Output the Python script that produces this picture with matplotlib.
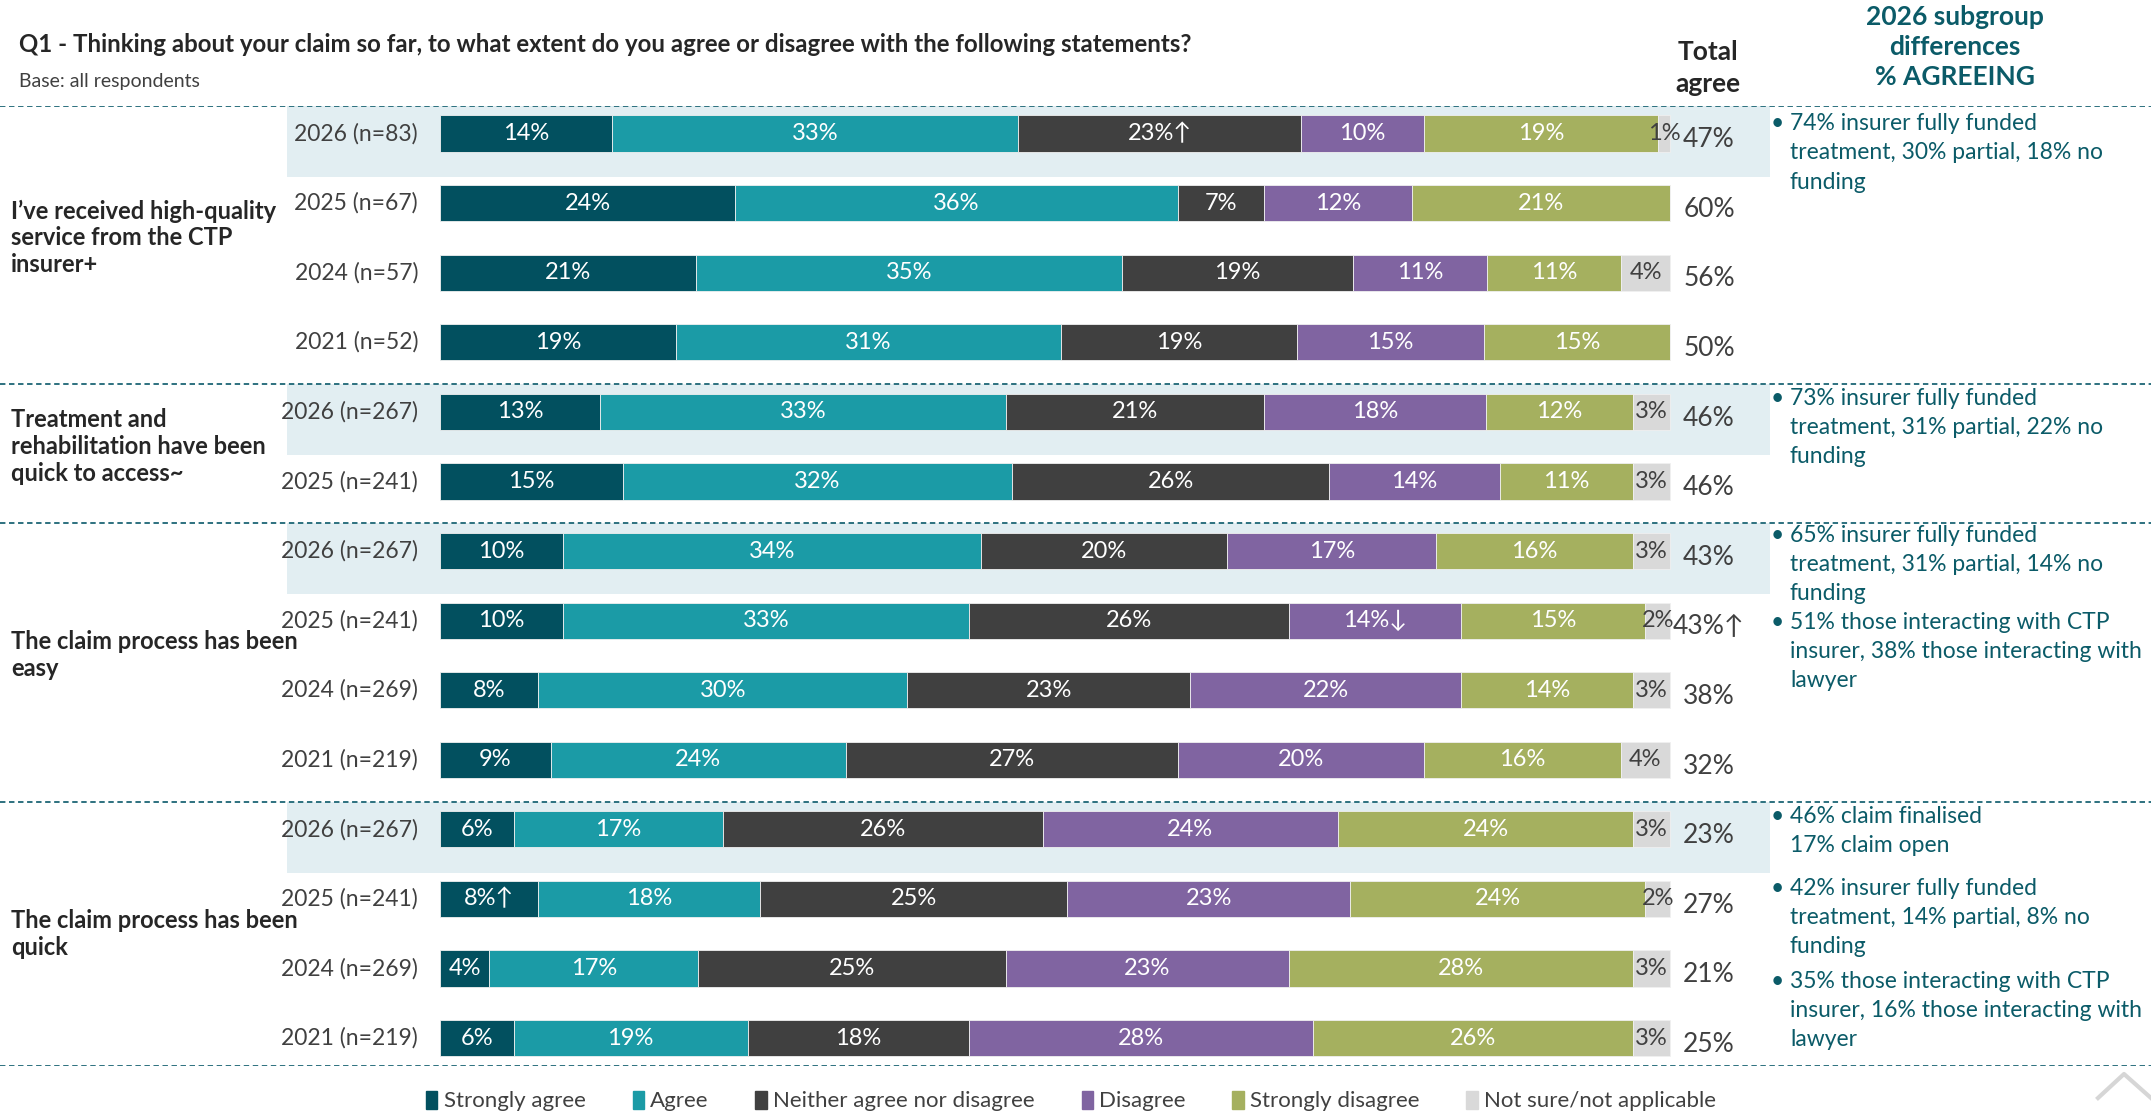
import numpy as np
import matplotlib.pyplot as plt
from matplotlib.patches import Patch, Rectangle
from matplotlib.lines import Line2D

plt.rcParams['font.family'] = ['Lato', 'DejaVu Sans']

# ---- data ----
categories = ['Strongly agree', 'Agree', 'Neither agree nor disagree',
              'Disagree', 'Strongly disagree', 'Not sure/not applicable']
colors = ['#02505f', '#1b9ba6', '#404040', '#8064a1', '#a5b05f', '#d9d9d9']

statements = ['I’ve received high-quality\nservice from the CTP\ninsurer+',
              'Treatment and\nrehabilitation have been\nquick to access~',
              'The claim process has been\neasy',
              'The claim process has been\nquick']
group_sizes = [4, 2, 4, 4]

row_labels = ['2026 (n=83)', '2025 (n=67)', '2024 (n=57)', '2021 (n=52)',
              '2026 (n=267)', '2025 (n=241)',
              '2026 (n=267)', '2025 (n=241)', '2024 (n=269)', '2021 (n=219)',
              '2026 (n=267)', '2025 (n=241)', '2024 (n=269)', '2021 (n=219)']

strongly_agree = [14, 24, 21, 19, 13, 15, 10, 10, 8, 9, 6, 8, 4, 6]
agree = [33, 36, 35, 31, 33, 32, 34, 33, 30, 24, 17, 18, 17, 19]
neither = [23, 7, 19, 19, 21, 26, 20, 26, 23, 27, 26, 25, 25, 18]
disagree = [10, 12, 11, 15, 18, 14, 17, 14, 22, 20, 24, 23, 23, 28]
strongly_disagree = [19, 21, 11, 15, 12, 11, 16, 15, 14, 16, 24, 24, 28, 26]
not_sure = [1, 0, 4, 0, 3, 3, 3, 2, 3, 4, 3, 2, 3, 3]

total_agree = [47, 60, 56, 50, 46, 46, 43, 43, 38, 32, 23, 27, 21, 25]

# significance arrows: (row, category) -> arrow
seg_arrows = {(0, 2): '↑', (7, 3): '↓', (11, 0): '↑'}
total_arrows = {7: '↑'}

# subgroup notes: (row offset of text top, text)
notes = [(-0.29, '74% insurer fully funded\ntreatment, 30% partial, 18% no\nfunding'),
         (3.66, '73% insurer fully funded\ntreatment, 31% partial, 22% no\nfunding'),
         (5.62, '65% insurer fully funded\ntreatment, 31% partial, 14% no\nfunding'),
         (6.87, '51% those interacting with CTP\ninsurer, 38% those interacting with\nlawyer'),
         (9.66, '46% claim finalised\n17% claim open'),
         (10.7, '42% insurer fully funded\ntreatment, 14% partial, 8% no\nfunding'),
         (12.03, '35% those interacting with CTP\ninsurer, 16% those interacting with\nlawyer')]

# ---- layout ----
W, H = 2151, 1113
bar_x0, bar_x1 = 440, 1670          # pixel span of a full 100% bar
ppu = (bar_x1 - bar_x0) / 100.0      # pixels per percent
dark = '#404040'
teal = '#0b5b68'

fig = plt.figure(figsize=(W / 100, H / 100), dpi=100)
ax = fig.add_axes([0, 1 - 1066 / H, 1, (1066 - 105.6) / H])
ax.set_xlim(-bar_x0 / ppu, (W - bar_x0) / ppu)
ax.set_ylim(13.4, -0.4)
ax.axis('off')


def px(x):
    return (x - bar_x0) / ppu


data = np.array([strongly_agree, agree, neither, disagree,
                 strongly_disagree, not_sure], dtype=float).T
widths = data / data.sum(axis=1, keepdims=True) * 100
rows = np.arange(len(row_labels))

# group separators and 2026 highlight bands
starts = np.cumsum([0] + group_sizes[:-1])
for g, s in enumerate(starts):
    ax.axhline(s - 0.4, color='#1d6675', lw=1.3, ls=(0, (3, 2)))
    ax.add_patch(Rectangle((px(287), s - 0.4), px(1770) - px(287), 1.02,
                           color='#e2eef2', zorder=0, lw=0))
    mid = s + (group_sizes[g] - 1) / 2
    ax.text(px(11), mid, statements[g], ha='left', va='center', fontsize=17,
            fontweight='bold', color='#262626', linespacing=1.2)
ax.axhline(13.4, color='#1d6675', lw=1.3, ls=(0, (3, 2)))

left = np.zeros(len(rows))
for j, cat in enumerate(categories):
    ax.barh(rows, widths[:, j], left=left, height=0.52, color=colors[j],
            edgecolor='#f0f0f0', linewidth=0.6, label=cat, zorder=2)
    for i in rows:
        v = data[i, j]
        if v <= 0:
            continue
        txt = f'{int(v)}%' + seg_arrows.get((i, j), '')
        ax.text(left[i] + widths[i, j] / 2, i, txt, ha='center', va='center',
                fontsize=17, color=dark if j == 5 else 'white', zorder=3)
    left += widths[:, j]

for i in rows:
    ax.text(px(418), i, row_labels[i], ha='right', va='center',
            fontsize=16.5, color=dark)
    ax.text(px(1709), i + 0.09, f'{total_agree[i]}%' + total_arrows.get(i, ''),
            ha='center', va='center', fontsize=19, color=dark)

for y, note in notes:
    ax.text(px(1771), y, '•', ha='left', va='top', fontsize=16.5, color=teal)
    ax.text(px(1790), y, note, ha='left', va='top', fontsize=16.5, color=teal,
            linespacing=1.48)

# headers
fig.text(19 / W, 1 - 44 / H, 'Q1 - Thinking about your claim so far, to what extent '
         'do you agree or disagree with the following statements?',
         ha='left', va='center', fontsize=17.3, fontweight='bold', color='#262626')
fig.text(19 / W, 1 - 82 / H, 'Base: all respondents', ha='left', va='center',
         fontsize=14, color=dark)
fig.text(1708 / W, 1 - 68 / H, 'Total\nagree', ha='center', va='center',
         fontsize=19, fontweight='bold', color='#262626', linespacing=1.35)
fig.text(1955 / W, 1 - 47 / H, '2026 subgroup\ndifferences\n% AGREEING',
         ha='center', va='center', fontsize=19, fontweight='bold', color=teal,
         linespacing=1.28)

# legend
handles = [Patch(color=c, label=l) for c, l in zip(colors, categories)]
fig.legend(handles=handles, loc='center', bbox_to_anchor=(0.498, 1 - 1101 / H),
           ncol=6, frameon=False, fontsize=16, handlelength=0.5, handleheight=0.9,
           handletextpad=0.3, columnspacing=2.1, labelcolor=dark)

# scroll-up chevron
fig.add_artist(Line2D([2098 / W, 2124 / W, 2151 / W],
                      [1 - 1098 / H, 1 - 1074 / H, 1 - 1098 / H],
                      color='#d6d6d6', lw=3))

fig.savefig('out.png', dpi=100)
